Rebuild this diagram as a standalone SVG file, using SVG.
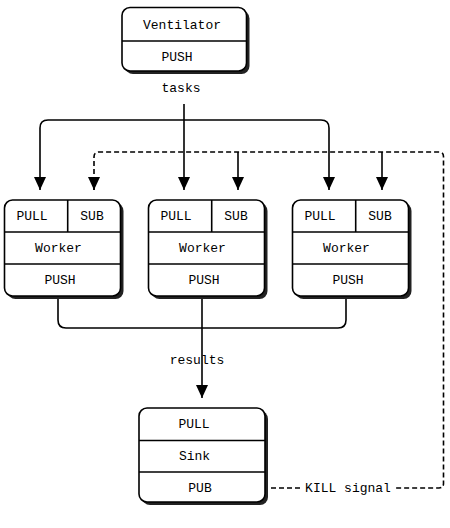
<svg xmlns="http://www.w3.org/2000/svg" width="450" height="528" viewBox="0 0 450 528">
<style>
.shadow{fill:#222;stroke:none}
.box{fill:#fff;stroke:#000;stroke-width:1.6}
.div{stroke:#000;stroke-width:1.6;fill:none}
.t{font-family:"Liberation Mono","DejaVu Sans Mono",monospace;font-size:13px;fill:#000;text-anchor:middle;dominant-baseline:central}
.c{fill:none;stroke:#000;stroke-width:1.6}
.d{fill:none;stroke:#000;stroke-width:1.6;stroke-dasharray:5 3}
</style>
<defs>
<marker id="arr" markerUnits="userSpaceOnUse" viewBox="0 0 13 12" refX="13" refY="6" markerWidth="13" markerHeight="12" orient="auto">
<path d="M0,0 L13,6 L0,12 z" fill="#000"/>
</marker>
</defs>
<g id="connectors">
<path class="c" d="M184,104 V190" marker-end="url(#arr)"/>
<path class="c" d="M184,120 H48 Q40,120 40,128 V190" marker-end="url(#arr)"/>
<path class="c" d="M184,120 H321 Q329,120 329,128 V190" marker-end="url(#arr)"/>
<path class="d" d="M94,190 V157 Q94,152 99,152 H439 Q443.5,152 443.5,156.5 V483.5 Q443.5,488 439,488 H395"/>
<path class="d" d="M300,488 H266"/>
<path class="c" d="M94,178 V190" marker-end="url(#arr)"/>
<path class="c" d="M238,152 V190" marker-end="url(#arr)"/>
<path class="c" d="M382,152 V190" marker-end="url(#arr)"/>
<path class="c" d="M58,296 V320 Q58,328 66,328 H338 Q346,328 346,320 V296"/>
<path class="c" d="M202,296 V398" marker-end="url(#arr)"/>
<text class="t" x="181" y="88">tasks</text>
<text class="t" x="197" y="360">results</text>
<text class="t" x="348" y="488">KILL signal</text>
</g>
<g id="ventilator">
<rect class="shadow" x="125" y="10.5" width="124.5" height="63.5" rx="8"/>
<rect class="box" x="122" y="7.5" width="124.5" height="63.5" rx="8"/>
<line class="div" x1="122" y1="41" x2="246.5" y2="41"/>
<text class="t" x="182" y="25">Ventilator</text>
<text class="t" x="177" y="57">PUSH</text>
</g>
<g id="worker1">
<rect class="shadow" x="7.5" y="203" width="116" height="96" rx="8"/>
<rect class="box" x="4.5" y="200" width="116" height="96" rx="8"/>
<line class="div" x1="67.7" y1="200" x2="67.7" y2="232"/>
<line class="div" x1="4.5" y1="232" x2="120.5" y2="232"/>
<line class="div" x1="4.5" y1="264" x2="120.5" y2="264"/>
<text class="t" x="32" y="216">PULL</text>
<text class="t" x="92" y="216">SUB</text>
<text class="t" x="58.5" y="248">Worker</text>
<text class="t" x="60" y="280">PUSH</text>
</g>
<g id="worker2">
<rect class="shadow" x="151.5" y="203" width="116" height="96" rx="8"/>
<rect class="box" x="148.5" y="200" width="116" height="96" rx="8"/>
<line class="div" x1="211.7" y1="200" x2="211.7" y2="232"/>
<line class="div" x1="148.5" y1="232" x2="264.5" y2="232"/>
<line class="div" x1="148.5" y1="264" x2="264.5" y2="264"/>
<text class="t" x="176" y="216">PULL</text>
<text class="t" x="236" y="216">SUB</text>
<text class="t" x="202.5" y="248">Worker</text>
<text class="t" x="204" y="280">PUSH</text>
</g>
<g id="worker3">
<rect class="shadow" x="295.5" y="203" width="116" height="96" rx="8"/>
<rect class="box" x="292.5" y="200" width="116" height="96" rx="8"/>
<line class="div" x1="355.7" y1="200" x2="355.7" y2="232"/>
<line class="div" x1="292.5" y1="232" x2="408.5" y2="232"/>
<line class="div" x1="292.5" y1="264" x2="408.5" y2="264"/>
<text class="t" x="320" y="216">PULL</text>
<text class="t" x="380" y="216">SUB</text>
<text class="t" x="346.5" y="248">Worker</text>
<text class="t" x="348" y="280">PUSH</text>
</g>
<g id="sink">
<rect class="shadow" x="142" y="411" width="126" height="94" rx="8"/>
<rect class="box" x="139" y="408" width="126" height="94" rx="8"/>
<line class="div" x1="139" y1="440.5" x2="265" y2="440.5"/>
<line class="div" x1="139" y1="472" x2="265" y2="472"/>
<text class="t" x="194" y="424">PULL</text>
<text class="t" x="194.5" y="456">Sink</text>
<text class="t" x="200" y="488">PUB</text>
</g>
</svg>
